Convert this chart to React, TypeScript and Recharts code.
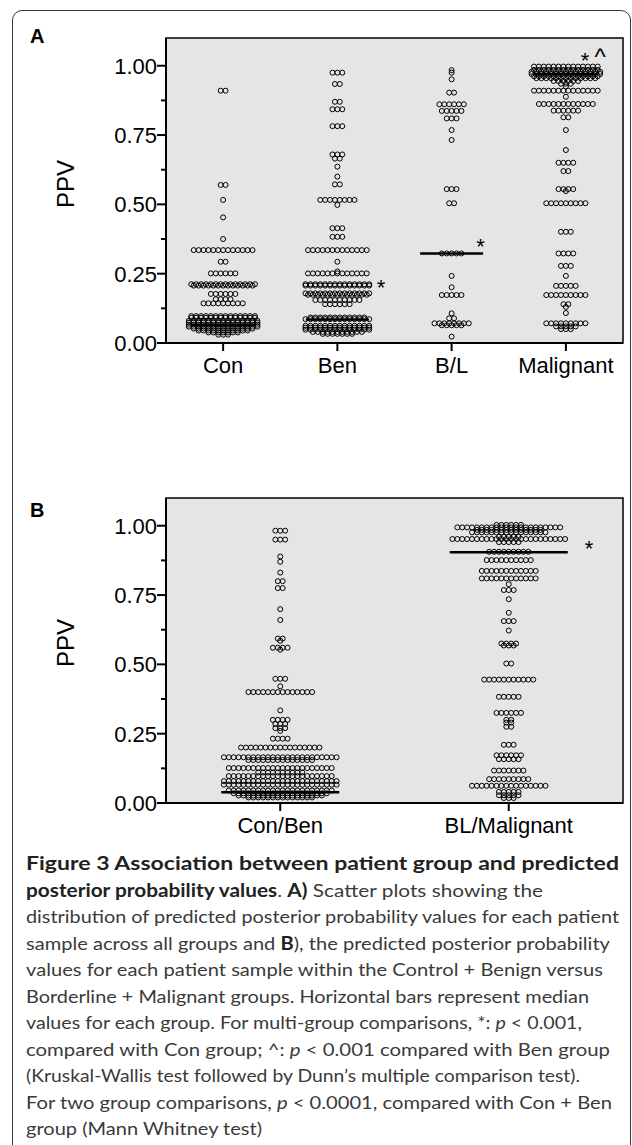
import React from 'react';
import { ScatterChart, Scatter, XAxis, YAxis, CartesianGrid, ReferenceLine, ReferenceArea } from 'recharts';

// Panel A categories and rows: [PPV value, number of samples at that value]
const groupsA = ['Con', 'Ben', 'B/L', 'Malignant'];
const conRows = [
  [0.91, 2], [0.57, 2], [0.516, 1], [0.453, 1], [0.375, 1], [0.335, 13], [0.293, 2], [0.251, 6],
  [0.212, 14], [0.207, 13], [0.177, 6], [0.158, 4], [0.143, 9], [0.097, 14], [0.091, 14],
  [0.08, 15], [0.073, 15], [0.066, 15], [0.059, 15], [0.052, 13], [0.045, 11], [0.038, 7], [0.03, 3],
];
const benRows = [
  [0.975, 3], [0.934, 2], [0.87, 2], [0.843, 3], [0.782, 3], [0.68, 3], [0.665, 2], [0.636, 1],
  [0.6, 1], [0.572, 2], [0.516, 8], [0.498, 1], [0.414, 3], [0.383, 3], [0.335, 13], [0.293, 1],
  [0.258, 1], [0.251, 13], [0.212, 14], [0.207, 14], [0.179, 14], [0.174, 13], [0.155, 10],
  [0.14, 6], [0.092, 12], [0.086, 14], [0.062, 14], [0.055, 14], [0.048, 14], [0.04, 11], [0.033, 7],
];
const blRows = [
  [0.984, 1], [0.975, 1], [0.951, 1], [0.903, 2], [0.861, 6], [0.837, 5], [0.81, 3], [0.768, 1],
  [0.732, 1], [0.555, 3], [0.504, 2], [0.323, 5], [0.242, 1], [0.201, 1], [0.173, 5], [0.107, 1],
  [0.089, 2], [0.071, 8], [0.064, 5], [0.023, 1],
];
const malRows = [
  [0.997, 14], [0.985, 14], [0.978, 15], [0.97, 15], [0.962, 14], [0.955, 13], [0.945, 6],
  [0.935, 3], [0.925, 1], [0.91, 14], [0.888, 1], [0.862, 12], [0.838, 6], [0.814, 2], [0.768, 1],
  [0.696, 1], [0.65, 4], [0.62, 2], [0.555, 4], [0.548, 1], [0.504, 9], [0.401, 3], [0.323, 4],
  [0.278, 3], [0.242, 1], [0.206, 5], [0.173, 9], [0.14, 2], [0.13, 1], [0.108, 1], [0.071, 9],
  [0.06, 5], [0.05, 3],
];
const mediansA = [0.065, 0.085, 0.323, 0.97];
const marksA = [
  { x: 1.882, y: 0.216, t: '*' },
  { x: 2.754, y: 0.363, t: '*' },
  { x: 3.667, y: 1.035, t: '*' },
  { x: 3.8, y: 1.035, t: '^' },
];

// Panel B
const groupsB = ['Con/Ben', 'BL/Malignant'];
const conBenRows = [
  [0.982, 3], [0.95, 3], [0.889, 1], [0.87, 1], [0.831, 1], [0.8, 2], [0.775, 2], [0.699, 1],
  [0.66, 1], [0.593, 2], [0.585, 1], [0.56, 4], [0.553, 1], [0.448, 3], [0.421, 1], [0.4, 14],
  [0.334, 1], [0.3, 4], [0.285, 3], [0.27, 3], [0.26, 1], [0.232, 4], [0.2, 17], [0.165, 24],
  [0.155, 14], [0.126, 22], [0.11, 10], [0.097, 22], [0.079, 24], [0.066, 24], [0.045, 22],
  [0.035, 20], [0.027, 18], [0.02, 14],
];
const blMalRows = [
  [1.003, 6], [0.994, 22], [0.985, 14], [0.976, 16], [0.96, 5], [0.952, 24], [0.941, 5],
  [0.906, 9], [0.876, 10], [0.837, 12], [0.81, 12], [0.789, 1], [0.768, 3], [0.735, 1],
  [0.686, 1], [0.656, 3], [0.622, 1], [0.575, 4], [0.568, 3], [0.503, 2], [0.445, 11],
  [0.383, 5], [0.325, 6], [0.3, 2], [0.29, 2], [0.275, 2], [0.21, 3], [0.172, 6], [0.158, 5],
  [0.117, 7], [0.086, 9], [0.062, 16], [0.04, 5], [0.028, 5], [0.018, 3],
];
const mediansB = [0.039, 0.904];
const marksB = [{ x: 1.851, y: 0.934, t: '*' }];

const yTicks = [0, 0.125, 0.25, 0.375, 0.5, 0.625, 0.75, 0.875, 1];

const captionLines = [
  [['Figure 3 Association between patient group and predicted', 'b']],
  [['posterior probability values', 'b'], ['. ', ''], ['A)', 'b'], [' Scatter plots showing the', '']],
  [['distribution of predicted posterior probability values for each patient', '']],
  [['sample across all groups and ', ''], ['B', 'b'], ['), the predicted posterior probability', '']],
  [['values for each patient sample within the Control + Benign versus', '']],
  [['Borderline + Malignant groups. Horizontal bars represent median', '']],
  [['values for each group. For multi-group comparisons, *: ', ''], ['p', 'i'], [' < 0.001,', '']],
  [['compared with Con group; ^: ', ''], ['p', 'i'], [' < 0.001 compared with Ben group', '']],
  [['(Kruskal-Wallis test followed by Dunn\u2019s multiple comparison test).', '']],
  [['For two group comparisons, ', ''], ['p', 'i'], [' < 0.0001, compared with Con + Ben', '']],
  [['group (Mann Whitney test)', '']],
];
const captionEnds = [619, 543, 619, 610, 603, 589, 582, 610, 580, 612, 262];

const W = 632;
const CH = 400;
const MARGIN = { top: 38, right: 9, bottom: 27, left: 0 };
const AXIS_W = 166;
const PLOT_W = W - AXIS_W - MARGIN.right;
const DOT_GAP = 4.9;
const FONT = '"Liberation Sans", Arial, Helvetica, sans-serif';

// lay out each row of equal values side by side around the group centre
const swarm = (rows: number[][], gi: number, step: number) =>
  rows.flatMap(([v, n]) =>
    Array.from({ length: n }, (_, i) => ({ x: gi + 0.5 + (i - (n - 1) / 2) * step, y: v }))
  );

const Dot = (p: any) => (
  <circle cx={p.cx} cy={p.cy} r={2.5} fill="none" stroke="#000" strokeWidth={1} />
);

const Mark = (p: any) => {
  const star = p.payload.t === '*';
  return (
    <text x={p.cx} y={p.cy} dy={star ? 12 : 9} textAnchor="middle" fontSize={star ? 22 : 24}
      fontFamily={FONT} fill="#000">
      {p.payload.t}
    </text>
  );
};

const YTick = (p: any) => {
  const v = p.payload.value;
  const major = Math.round(v * 100) % 25 === 0;
  return (
    <g>
      <line x1={p.x - (major ? 9 : 5)} x2={p.x} y1={p.y} y2={p.y} stroke="#000" strokeWidth={2} />
      {major && (
        <text x={p.x - 9} y={p.y} dy={8} textAnchor="end" fontSize={22} fontFamily={FONT} fill="#000">
          {v.toFixed(2)}
        </text>
      )}
    </g>
  );
};

const Panel = ({ groups, rows, medians, marks, top, letter, letterY, ppvY }: any) => {
  const step = DOT_GAP / (PLOT_W / groups.length);
  const half = (groups.length === 4 ? 31.5 : 59) / (PLOT_W / groups.length);
  return (
    <div style={{ position: 'absolute', left: 0, top, width: W, height: CH }}>
      <ScatterChart width={W} height={CH} margin={MARGIN}>
        <CartesianGrid horizontal={false} vertical={false} fill="#e5e5e5" stroke="none" />
        <XAxis type="number" dataKey="x" domain={[0, groups.length]} allowDataOverflow
          ticks={groups.map((_: string, i: number) => i + 0.5)} interval={0}
          tickFormatter={(v: number) => groups[Math.floor(v)]}
          height={30} tickSize={8} tickMargin={6}
          axisLine={{ stroke: '#000', strokeWidth: 2 }} tickLine={{ stroke: '#000', strokeWidth: 2 }}
          tick={{ fontSize: 22, fill: '#000', fontFamily: FONT }} />
        <YAxis type="number" dataKey="y" domain={[0, 1.1]} allowDataOverflow ticks={yTicks}
          interval={0} width={AXIS_W} tickSize={0} tickMargin={0} tickLine={false}
          axisLine={{ stroke: '#000', strokeWidth: 2 }} tick={<YTick />} />
        {rows.map((r: number[][], i: number) => (
          <Scatter key={i} data={swarm(r, i, step)} shape={Dot} isAnimationActive={false} />
        ))}
        {medians.map((m: number, i: number) => (
          <ReferenceLine key={'m' + i} ifOverflow="visible" stroke="#000" strokeWidth={2.5}
            segment={[{ x: i + 0.5 - half, y: m }, { x: i + 0.5 + half, y: m }]} />
        ))}
        <Scatter data={marks} shape={Mark} isAnimationActive={false} />
        <ReferenceArea x1={0} x2={groups.length} y1={0} y2={1.1} ifOverflow="visible"
          fill="none" stroke="#000" strokeWidth={1.5} />
      </ScatterChart>
      <svg width={W} height={CH} style={{ position: 'absolute', left: 0, top: 0, pointerEvents: 'none' }}>
        <text x={30} y={letterY} fontSize={20} fontWeight="bold" fontFamily={FONT} fill="#000">{letter}</text>
        <text transform={`translate(65,${ppvY}) rotate(-90)`} dy={8.6} textAnchor="middle"
          fontSize={24} fontFamily={FONT} fill="#000">PPV</text>
      </svg>
    </div>
  );
};

export default function App() {
  return (
    <div style={{ position: 'absolute', left: 0, top: 0, width: W, height: 1145, overflow: 'hidden', background: '#fff' }}>
      <div style={{ position: 'absolute', left: 12, top: 10, width: 619, height: 1300, boxSizing: 'border-box',
        border: '1.5px solid #3a3a3a', borderRadius: 10 }} />
      <Panel groups={groupsA} rows={[conRows, benRows, blRows, malRows]} medians={mediansA} marks={marksA}
        top={0} letter="A" letterY={43} ppvY={184} />
      <Panel groups={groupsB} rows={[conBenRows, blMalRows]} medians={mediansB} marks={marksB}
        top={460} letter="B" letterY={57} ppvY={183} />
      <svg width={W} height={1145} style={{ position: 'absolute', left: 0, top: 0 }}>
        {captionLines.map((segs, li) => (
          <text key={li} x={26} y={870 + li * 26.5} fontSize={18} fontFamily='Lato, "Open Sans", sans-serif'
            fill="#3a3a3a" textLength={captionEnds[li] - 26} lengthAdjust="spacingAndGlyphs"
            style={{ whiteSpace: 'pre' }}>
            {segs.map(([s, st], si) => (
              <tspan key={si} fontWeight={st === 'b' ? 'bold' : 'normal'} fontStyle={st === 'i' ? 'italic' : 'normal'}
                fill={st === 'b' ? '#222' : '#3a3a3a'}>{s}</tspan>
            ))}
          </text>
        ))}
      </svg>
    </div>
  );
}
